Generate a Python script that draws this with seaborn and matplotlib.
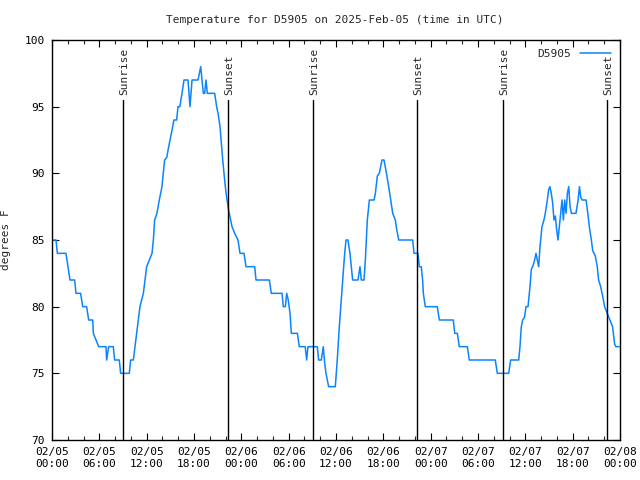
#Temperature at station D5905, 2025-Feb-05 to 2025-Feb-08 (UTC)

import pandas as pd
import matplotlib
matplotlib.use('Agg')
import matplotlib.pyplot as plt
import matplotlib.dates as mdates
from matplotlib.ticker import MultipleLocator
import seaborn as sns

# hours since 2025-02-05 00:00 UTC
hours = [0.00, 0.51, 0.68, 1.77, 2.03, 2.28, 2.87, 3.04, 3.63, 3.89, 4.39, 4.65, 5.16, 5.24,
         5.92, 6.84, 6.93, 7.18, 7.77, 7.94, 8.53, 8.70, 9.80, 9.97, 10.31, 10.73, 11.15,
         11.58, 12.00, 12.34, 12.68, 12.85, 13.01, 13.30, 13.60, 13.94, 14.10, 14.28, 14.55,
         14.79, 15.30, 15.45, 15.80, 15.97, 16.20, 16.48, 16.73, 17.24, 17.49, 17.75, 18.51,
         18.68, 18.85, 19.01, 19.18, 19.35, 19.52, 19.69, 20.62, 20.87, 21.05, 21.30, 21.64,
         21.97, 22.14, 22.40, 22.82, 23.16, 23.58, 23.83, 24.34, 24.59, 25.69, 25.86, 27.55,
         27.80, 29.16, 29.32, 29.58, 29.75, 29.95, 30.17, 30.34, 31.10, 31.35, 32.10, 32.28,
         32.45, 33.63, 33.80, 34.14, 34.39, 34.56, 34.73, 35.07, 35.91, 36.16, 36.42, 36.67,
         36.93, 37.10, 37.27, 37.52, 37.77, 38.03, 38.11, 38.79, 39.04, 39.21, 39.55, 39.72,
         39.97, 40.23, 40.82, 40.99, 41.24, 41.49, 41.83, 42.08, 42.34, 42.68, 42.93, 43.19,
         43.52, 43.69, 43.95, 45.72, 45.89, 46.39, 46.56, 46.81, 46.98, 47.07, 47.32, 48.84,
         49.10, 50.87, 51.05, 51.38, 51.63, 52.65, 52.90, 56.19, 56.45, 57.89, 58.14, 59.16,
         59.32, 59.49, 59.66, 59.90, 60.08, 60.34, 60.59, 60.76, 60.93, 61.18, 61.35, 61.52,
         61.69, 61.86, 62.11, 62.36, 62.53, 62.79, 62.96, 63.12, 63.29, 63.46, 63.63, 63.80,
         63.97, 64.14, 64.31, 64.48, 64.65, 64.82, 64.99, 65.16, 65.33, 65.50, 65.67, 65.84,
         66.42, 66.69, 66.86, 67.03, 67.20, 67.70, 67.96, 68.11, 68.37, 68.54, 68.87, 69.12,
         69.29, 69.55, 69.80, 70.05, 70.38, 70.72, 71.06, 71.32, 71.48, 71.91]

temps = [85, 85, 84, 84, 83, 82, 82, 81, 81, 80, 80, 79, 79, 78,
         77, 77, 76, 77, 77, 76, 76, 75, 75, 76, 76, 78, 80,
         81, 83, 83.5, 84, 85, 86.5, 87, 88, 89, 90, 91, 91.2,
         92, 93.5, 94, 94, 95, 95, 96, 97, 97, 95, 97, 97,
         97.5, 98, 97, 96, 96, 97, 96, 96, 95, 94.5, 93.5, 91,
         89, 88.2, 87.2, 86, 85.5, 85, 84, 84, 83, 83, 82, 82,
         81, 81, 80, 80, 81, 80.5, 79.5, 78, 78, 77, 77, 76,
         77, 77, 76, 76, 77, 75.8, 75, 74, 74, 76, 78.5, 80.5,
         82.5, 84, 85, 85, 84, 82.5, 82, 82, 83, 82, 82, 83.5,
         86.5, 88, 88, 88.5, 89.8, 90, 91, 91, 90.2, 89, 88, 87,
         86.5, 85.8, 85, 85, 84, 84, 83, 83, 82, 81, 80, 80,
         79, 79, 78, 78, 77, 77, 76, 76, 75, 75, 76, 76,
         77, 78.5, 79, 79.2, 80, 80, 81.5, 82.8, 83, 83.5, 84, 83.5,
         83, 84.5, 86, 86.5, 87, 88, 88.8, 89, 88.5, 87.8, 86.5, 86.8,
         85.8, 85, 86, 87, 88, 86.5, 88, 87, 88.5, 89, 87.5, 87,
         87, 88, 89, 88.2, 88, 88, 86.8, 86, 85, 84.2, 83.8, 83,
         82, 81.5, 80.8, 80, 79.5, 79, 78.5, 77.2, 77, 77]

sun_labels = ['Sunrise', 'Sunset', 'Sunrise', 'Sunset', 'Sunrise', 'Sunset']
sun_hours = [9.04, 22.33, 33.12, 46.30, 57.20, 70.39]

start = pd.Timestamp('2025-02-05 00:00')
df = pd.DataFrame({'time': start + pd.to_timedelta(hours, unit='h'), 'temp': temps})
sun_times = start + pd.to_timedelta(sun_hours, unit='h')

sns.set_theme(style='white')
plt.rcParams['font.family'] = ['DejaVu Sans Mono']
plt.rcParams['font.size'] = 7.5

fig = plt.figure(figsize=(6.4, 4.8), dpi=100)
ax = fig.add_axes([52/640, 40/480, 568/640, 400/480])

sns.lineplot(data=df, x='time', y='temp', ax=ax, color='#0a84ff', lw=1.1,
             estimator=None, sort=False, label='D5905')

for t, lab in zip(sun_times, sun_labels):
    ax.plot([t, t], [70, 95.5], color='black', lw=1)
    ax.text(t + pd.Timedelta(minutes=8), 95.9, lab, rotation=90, ha='center', va='bottom',
            fontsize=8)

ax.set_xlim(start, start + pd.Timedelta(hours=72))
ax.set_ylim(70, 100)
ax.xaxis.set_major_locator(mdates.HourLocator(byhour=[0, 6, 12, 18]))
ax.xaxis.set_minor_locator(mdates.HourLocator(byhour=range(0, 24, 2)))
ax.xaxis.set_major_formatter(mdates.DateFormatter('%m/%d\n%H:%M'))
ax.yaxis.set_major_locator(MultipleLocator(5))
ax.tick_params(which='major', direction='in', length=5, width=0.8, top=True, right=True,
               bottom=True, left=True, labelsize=8, pad=5, colors='black')
ax.tick_params(which='minor', direction='in', length=3, width=0.8, top=True, bottom=True)
for s in ax.spines.values():
    s.set_color('black')
    s.set_linewidth(1)

ax.set_xlabel('')
ax.set_ylabel('degrees F', fontsize=8, labelpad=10)
fig.suptitle('Temperature for D5905 on 2025-Feb-05 (time in UTC)', x=335/640, y=0.968,
             fontsize=8)

leg = ax.legend(loc='upper right', frameon=False, fontsize=8, handlelength=2.8,
                markerfirst=False, borderaxespad=0.4)

fig.savefig('out.png', dpi=100)
